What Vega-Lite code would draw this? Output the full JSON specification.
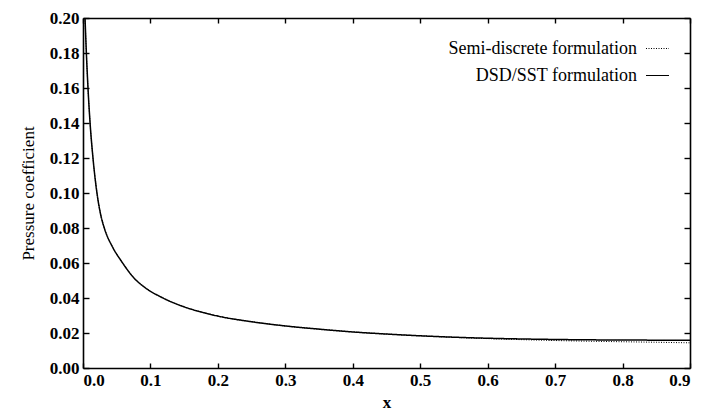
{
  "$schema": "https://vega.github.io/schema/vega-lite/v6.json",
  "width": 607,
  "height": 350,
  "autosize": "none",
  "padding": {"left": 83, "top": 18, "right": 11, "bottom": 46},
  "background": "white",
  "config": {
    "font": "'Liberation Serif', 'Times New Roman', Times, 'DejaVu Serif', serif",
    "view": {"stroke": null},
    "axis": {
      "domainColor": "black", "domainWidth": 1.6, "tickColor": "black", "tickWidth": 1.4,
      "grid": false, "labelColor": "black", "titleColor": "black",
      "labelFont": "'Liberation Serif', 'Times New Roman', Times, 'DejaVu Serif', serif",
      "titleFont": "'Liberation Serif', 'Times New Roman', Times, 'DejaVu Serif', serif",
      "labelFontSize": 17, "labelFontWeight": "bold", "titleFontSize": 17, "titleFontWeight": "normal"
    },
    "legend": {
      "labelFont": "'Liberation Serif', 'Times New Roman', Times, 'DejaVu Serif', serif",
      "labelFontSize": 18, "labelColor": "black", "labelLimit": 400
    }
  },
  "datasets": {
    "dsd": [
      {"x": 0.003, "y": 0.200}, {"x": 0.005, "y": 0.180}, {"x": 0.0074, "y": 0.160},
      {"x": 0.0105, "y": 0.140}, {"x": 0.0148, "y": 0.120}, {"x": 0.0207, "y": 0.100},
      {"x": 0.026, "y": 0.088}, {"x": 0.032, "y": 0.0795}, {"x": 0.044, "y": 0.069},
      {"x": 0.057, "y": 0.061}, {"x": 0.0766, "y": 0.0510}, {"x": 0.090, "y": 0.0465},
      {"x": 0.118, "y": 0.0401}, {"x": 0.148, "y": 0.0352}, {"x": 0.177, "y": 0.0318},
      {"x": 0.207, "y": 0.0291}, {"x": 0.247, "y": 0.0266}, {"x": 0.296, "y": 0.0242},
      {"x": 0.350, "y": 0.0222}, {"x": 0.400, "y": 0.0206}, {"x": 0.450, "y": 0.0194},
      {"x": 0.500, "y": 0.0184}, {"x": 0.550, "y": 0.0176}, {"x": 0.600, "y": 0.0170},
      {"x": 0.650, "y": 0.0166}, {"x": 0.700, "y": 0.0163}, {"x": 0.750, "y": 0.0161},
      {"x": 0.800, "y": 0.0160}, {"x": 0.850, "y": 0.0159}, {"x": 0.900, "y": 0.0158}
    ],
    "semi": [
      {"x": 0.003, "y": 0.200}, {"x": 0.005, "y": 0.180}, {"x": 0.0074, "y": 0.160},
      {"x": 0.0105, "y": 0.140}, {"x": 0.0148, "y": 0.120}, {"x": 0.0207, "y": 0.100},
      {"x": 0.026, "y": 0.088}, {"x": 0.032, "y": 0.0795}, {"x": 0.044, "y": 0.069},
      {"x": 0.057, "y": 0.061}, {"x": 0.0766, "y": 0.0510}, {"x": 0.090, "y": 0.0465},
      {"x": 0.118, "y": 0.0401}, {"x": 0.148, "y": 0.0352}, {"x": 0.177, "y": 0.0318},
      {"x": 0.207, "y": 0.0291}, {"x": 0.247, "y": 0.0266}, {"x": 0.296, "y": 0.0242},
      {"x": 0.350, "y": 0.0222}, {"x": 0.400, "y": 0.0206}, {"x": 0.450, "y": 0.0194},
      {"x": 0.500, "y": 0.0184}, {"x": 0.550, "y": 0.0175}, {"x": 0.600, "y": 0.0168},
      {"x": 0.650, "y": 0.0162}, {"x": 0.700, "y": 0.0157}, {"x": 0.750, "y": 0.0153},
      {"x": 0.800, "y": 0.0150}, {"x": 0.850, "y": 0.0147}, {"x": 0.900, "y": 0.0144}
    ]
  },
  "resolve": {"axis": {"x": "independent", "y": "independent"}},
  "layer": [
    {
      "data": {"name": "semi"},
      "transform": [{"calculate": "'Semi-discrete formulation'", "as": "series"}],
      "mark": {"type": "line", "color": "black", "clip": true, "interpolate": "monotone", "strokeWidth": 1},
      "encoding": {
        "x": {"field": "x", "type": "quantitative", "scale": {"domain": [0, 0.9], "nice": false, "zero": false},
          "axis": {"orient": "bottom", "title": "x", "titleFontWeight": "bold", "titleFontSize": 17, "titlePadding": 6, "values": [0,0.1,0.2,0.3,0.4,0.5,0.6,0.7,0.8,0.9], "format": ".1f", "tickSize": -5, "labelPadding": 9}},
        "y": {"field": "y", "type": "quantitative", "scale": {"domain": [0, 0.2], "nice": false},
          "axis": {"orient": "left", "title": "Pressure coefficient", "titlePadding": 12, "values": [0,0.02,0.04,0.06,0.08,0.1,0.12,0.14,0.16,0.18,0.2], "format": ".2f", "tickSize": -6, "labelPadding": 10}},
        "strokeDash": {"field": "series", "type": "nominal",
          "scale": {"domain": ["Semi-discrete formulation", "DSD/SST formulation"], "range": [[1, 1.5], [1, 0]]},
          "legend": {"title": null, "orient": "top-right", "offset": 18, "symbolType": "stroke", "symbolSize": 529, "symbolStrokeColor": "black", "symbolStrokeWidth": 1.2, "labelAlign": "right", "labelOffset": -33, "rowPadding": 5}}
      }
    },
    {
      "data": {"name": "dsd"},
      "transform": [{"calculate": "'DSD/SST formulation'", "as": "series"}],
      "mark": {"type": "line", "color": "black", "clip": true, "interpolate": "monotone", "strokeWidth": 1.5},
      "encoding": {
        "x": {"field": "x", "type": "quantitative", "scale": {"domain": [0, 0.9], "nice": false, "zero": false},
          "axis": {"orient": "top", "title": null, "labels": false, "values": [0,0.1,0.2,0.3,0.4,0.5,0.6,0.7,0.8,0.9], "tickSize": -5}},
        "y": {"field": "y", "type": "quantitative", "scale": {"domain": [0, 0.2], "nice": false},
          "axis": {"orient": "right", "title": null, "labels": false, "values": [0,0.02,0.04,0.06,0.08,0.1,0.12,0.14,0.16,0.18,0.2], "tickSize": -6}},
        "strokeDash": {"field": "series", "type": "nominal"}
      }
    }
  ]
}
